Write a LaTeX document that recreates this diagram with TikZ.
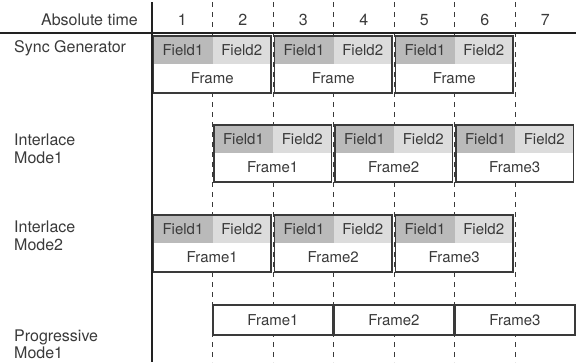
\documentclass[tikz,border=0pt]{standalone}
\usepackage{fontspec}
\setmainfont{TeX Gyre Heros}
\usetikzlibrary{positioning}
\definecolor{ink}{HTML}{3A3A3A}
\definecolor{rule}{HTML}{222222}
\definecolor{fieldA}{HTML}{BABABA}
\definecolor{fieldB}{HTML}{DCDCDC}
\tikzset{
    axisline/.style={line width=2.8pt, draw=rule},
    gridline/.style={draw=ink, line width=0.9pt, dash pattern=on 5pt off 5pt},
    framebox/.style={
        rectangle, fill=white, inner sep=0pt, outer sep=0pt,
        minimum width=117.5pt
    },
    framerule/.style={draw=ink, line width=1.5pt},
    fieldone/.style={
        rectangle, fill=fieldA, text=ink, inner sep=0pt, outer sep=0pt,
        minimum width=59pt, minimum height=28pt, font=\fontsize{15}{18}\selectfont
    },
    fieldtwo/.style={fieldone, fill=fieldB, minimum width=58.5pt},
    framelabel/.style={text=ink, inner sep=0pt, font=\fontsize{15}{18}\selectfont},
    rowlabel/.style={
        anchor=base west, align=left, text=ink, inner sep=0pt,
        font=\fontsize{16}{17.5}\selectfont
    },
    ticklabel/.style={anchor=base, text=ink, inner sep=0pt, font=\fontsize{16}{18}\selectfont}
}

\begin{document}
\begin{tikzpicture}[x=1pt, y=-1pt]
      \useasboundingbox (0,0) rectangle (581,362);

      % time grid
      \foreach \i in {1,...,6}
        \draw[gridline] (152+60.5*\i,2) -- (152+60.5*\i,362);

      \node[ticklabel, anchor=base east] (abs) at (138,25) {Absolute time};
      \foreach \i in {1,...,7}
        \node[ticklabel] (t\i) at (121.75+60.5*\i,25) {\i};

      % row labels (base = last line)
      \node[rowlabel] (sync) at (14,52) {Sync Generator};
      \node[rowlabel] (ilone) at (14,163) {Interlace\\Mode1};
      \node[rowlabel] (iltwo) at (14,250) {Interlace\\Mode2};
      \node[rowlabel] (prog) at (14,358.5) {Progressive\\Mode1};

      % sync generator
      \foreach \s in {0,2,4} {
        \node[framebox, minimum height=57pt, anchor=north west] (sg\s) at (153.5+60.5*\s,36) {};
        \node[fieldone, anchor=north west] (sg\s-a) at (sg\s.north west) {Field1};
        \node[fieldtwo, anchor=north east] (sg\s-b) at (sg\s.north east) {Field2};
        \node[framelabel, minimum height=29pt, anchor=south] (sg\s-f) at (sg\s.south) {Frame};
        \draw[framerule] (sg\s.north west) rectangle (sg\s.south east);
      }

      % interlace mode1
      \foreach \s/\n in {1/1,3/2,5/3} {
        \node[framebox, minimum height=57pt, anchor=north west] (ia\n) at (153.5+60.5*\s,125) {};
        \node[fieldone, anchor=north west] (ia\n-a) at (ia\n.north west) {Field1};
        \node[fieldtwo, anchor=north east] (ia\n-b) at (ia\n.north east) {Field2};
        \node[framelabel, minimum height=29pt, anchor=south] (ia\n-f) at (ia\n.south) {Frame\n};
        \draw[framerule] (ia\n.north west) rectangle (ia\n.south east);
      }

      % interlace mode2
      \foreach \s/\n in {0/1,2/2,4/3} {
        \node[framebox, minimum height=57pt, anchor=north west] (ib\n) at (153.5+60.5*\s,215) {};
        \node[fieldone, anchor=north west] (ib\n-a) at (ib\n.north west) {Field1};
        \node[fieldtwo, anchor=north east] (ib\n-b) at (ib\n.north east) {Field2};
        \node[framelabel, minimum height=29pt, anchor=south] (ib\n-f) at (ib\n.south) {Frame\n};
        \draw[framerule] (ib\n.north west) rectangle (ib\n.south east);
      }

      % progressive mode1
      \foreach \s/\n in {1/1,3/2,5/3} {
        \node[framebox, framelabel, minimum width=119.6pt, minimum height=30pt, anchor=north west] (pm\n) at (152.7+60.5*\s,305) {Frame\n};
        \draw[framerule] (pm\n.north west) rectangle (pm\n.south east);
      }

      % axes
      \draw[axisline] (152,2) -- (152,362);
      \draw[axisline] (0,33) -- (576,33);
    \end{tikzpicture}
\end{document}
